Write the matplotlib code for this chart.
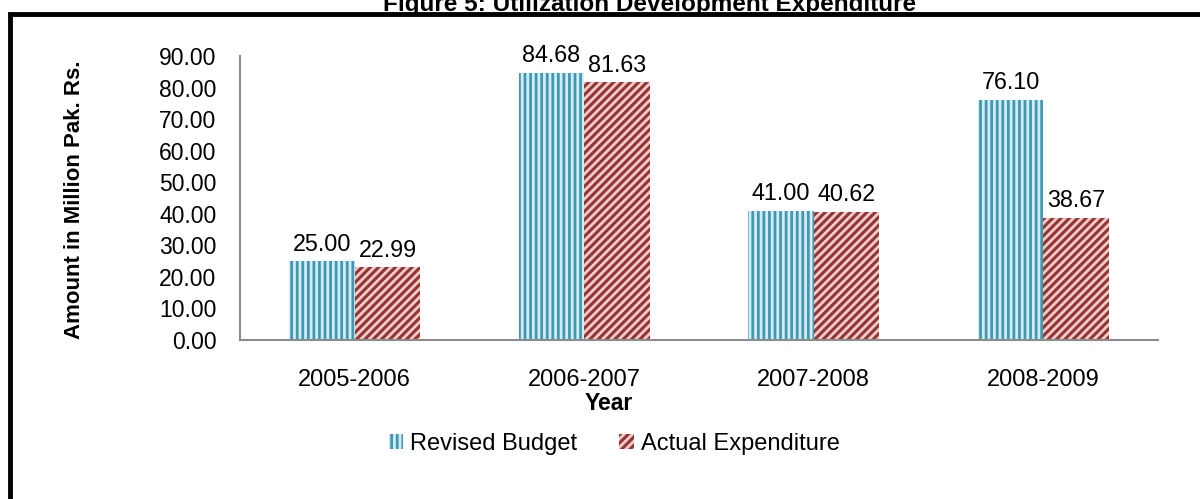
import matplotlib
matplotlib.use("Agg")
import matplotlib.pyplot as plt
import numpy as np
from matplotlib.patches import Rectangle

categories = ["2005-2006", "2006-2007", "2007-2008", "2008-2009"]
revised_budget = [25.00, 84.68, 41.00, 76.10]
actual_expenditure = [22.99, 81.63, 40.62, 38.67]
yticks = [0, 10, 20, 30, 40, 50, 60, 70, 80, 90]

plt.rcParams['font.family'] = ['Liberation Sans', 'DejaVu Sans']
plt.rcParams['hatch.linewidth'] = 2.0

fig = plt.figure(figsize=(12, 4.99), dpi=100)
ax = fig.add_axes([240/1200, 1-340/499, 918/1200, 284/499])

x = np.arange(len(categories))
w = 0.285
b1 = ax.bar(x - w/2, revised_budget, w, facecolor='#D6ECF2', edgecolor='#3E9AB4',
            hatch='|||', linewidth=0)
b2 = ax.bar(x + w/2, actual_expenditure, w, facecolor='#9A3431', edgecolor='#EBCFCE',
            hatch='////', linewidth=0)

for bars, vals in ((b1, revised_budget), (b2, actual_expenditure)):
    for r, v in zip(bars, vals):
        ax.annotate(f"{v:.2f}", (r.get_x() + r.get_width()/2, v), xytext=(0, 4),
                    textcoords='offset points', ha='center', va='bottom', fontsize=16.8)

ax.set_ylim(0, 90)
ax.set_xlim(-0.5, len(categories) - 0.5)
ax.set_yticks(yticks)
ax.set_yticklabels([f"{t:.2f}" for t in yticks], fontsize=16.5)
ax.set_xticks(x)
ax.set_xticklabels(categories, fontsize=17)
ax.tick_params(axis='y', length=0, pad=17)
ax.tick_params(axis='x', length=0, pad=21)
for s in ('top', 'right'):
    ax.spines[s].set_visible(False)
for s in ('left', 'bottom'):
    ax.spines[s].set_color('#8C8C8C')
    ax.spines[s].set_linewidth(1.5)

fig.text(609/1200, 1-404/499, "Year", fontsize=16.5, fontweight='bold',
         ha='center', va='center')
fig.text(75/1200, 1-200/499, "Amount in Million Pak. Rs.", rotation=90, fontsize=16,
         fontweight='bold', ha='center', va='center')

leg = fig.legend([b1[0], b2[0]], ["Revised Budget", "Actual Expenditure"],
                 loc='center', bbox_to_anchor=(614/1200, 1-444/499), ncol=2,
                 frameon=False, fontsize=17, handlelength=0.6, handleheight=0.6,
                 handletextpad=0.3, columnspacing=1.8)

# outer frame
fig.patches.append(Rectangle((9.5/1200, -0.05), 1.1, (1-13.5/499) + 0.05,
                             transform=fig.transFigure, fill=False,
                             edgecolor='black', linewidth=3.5, clip_on=False))
fig.text(650/1200, 1-11/499, "Figure 5: Utilization Development Expenditure",
         fontsize=17.5, fontweight='bold', ha='center', va='baseline')

fig.savefig("out.png", dpi=100)
